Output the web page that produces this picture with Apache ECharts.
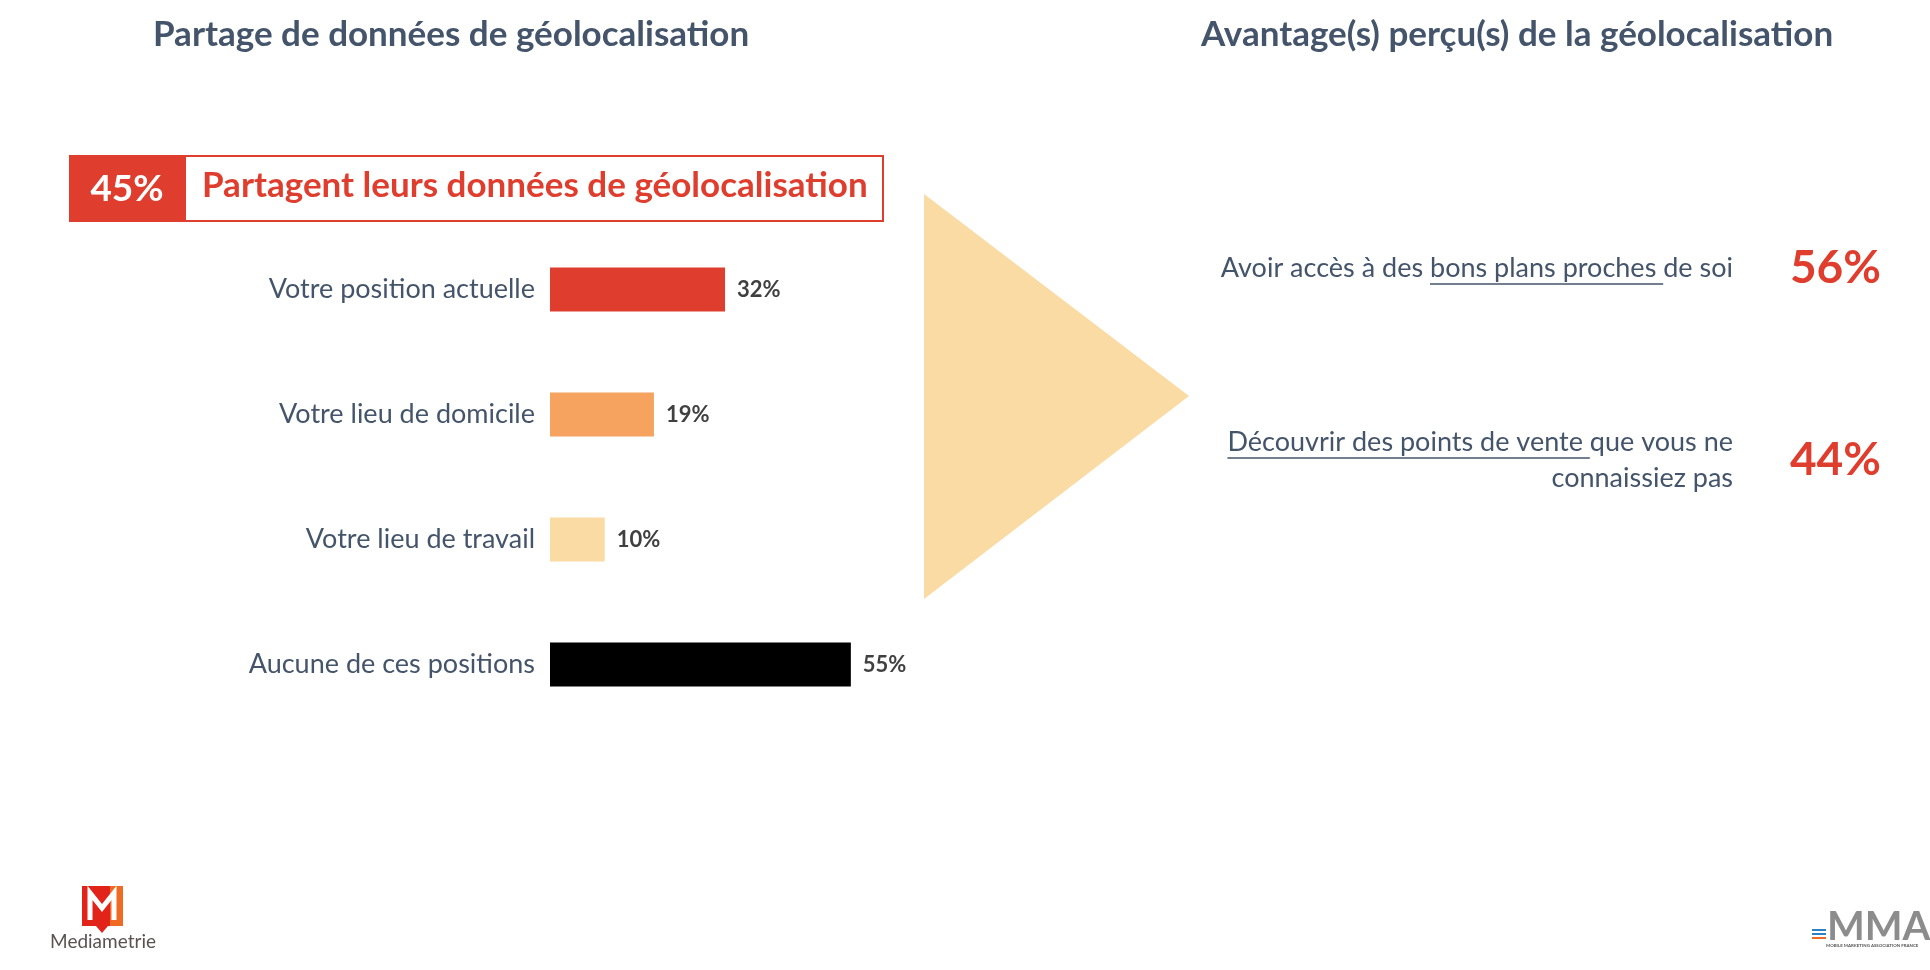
<!DOCTYPE html>
<html>
<head>
<meta charset="utf-8">
<script src="https://cdn.jsdelivr.net/npm/echarts@6/dist/echarts.min.js"></script>
<style>
html,body{margin:0;padding:0;background:#fff;}
#c{width:1930px;height:970px;}
</style>
</head>
<body>
<div id="c"></div>
<script>
// ---- data ----
const leftTitle = 'Partage de données de géolocalisation';
const rightTitle = 'Avantage(s) perçu(s) de la géolocalisation';
const shareValue = 45;
const shareText = 'Partagent leurs données de géolocalisation';
const categories = ['Votre position actuelle', 'Votre lieu de domicile', 'Votre lieu de travail', 'Aucune de ces positions'];
const values = [32, 19, 10, 55];
const barColors = ['#DF3E2E', '#F5A35E', '#FADBA4', '#000000'];
// each benefit: lines, each line = [before, underlined, after]
const benefitLines = [
  [['Avoir accès à des ', 'bons plans proches ', 'de soi']],
  [['', 'Découvrir des points de vente ', 'que vous ne'], ['connaissiez pas', '', '']]
];
const benefitValues = [56, 44];

// ---- styles ----
const FONT = 'Lato, "Open Sans", sans-serif';
const SLATE = '#44546A';
const RED = '#DF3E2E';

const chart = echarts.init(document.getElementById('c'));

const mctx = document.createElement('canvas').getContext('2d');
function tw(txt, size, weight) {
  mctx.font = (weight || 'normal') + ' ' + size + 'px ' + FONT;
  return mctx.measureText(txt).width;
}

const graphics = [];
// titles
graphics.push({type:'text', x:153, y:35, style:{text:leftTitle, font:'bold 35px ' + FONT, fill:SLATE, verticalAlign:'middle'}});
graphics.push({type:'text', x:1201, y:35, style:{text:rightTitle, font:'bold 35px ' + FONT, fill:SLATE, verticalAlign:'middle'}});
// share box
graphics.push({type:'rect', shape:{x:69, y:155, width:116, height:67}, style:{fill:RED}});
graphics.push({type:'rect', shape:{x:185, y:156, width:698, height:65}, style:{fill:'#fff', stroke:RED, lineWidth:2}});
graphics.push({type:'text', x:127, y:189, style:{text:shareValue + '%', font:'bold 37px ' + FONT, fill:'#fff', align:'center', verticalAlign:'middle'}});
graphics.push({type:'text', x:202, y:186, style:{text:shareText, font:'bold 35px ' + FONT, fill:RED, align:'left', verticalAlign:'middle'}});
// triangle
graphics.push({type:'polygon', shape:{points:[[924,194],[1189,396],[924,599]]}, style:{fill:'#FADBA4'}});

// benefits
const rightX = 1733;
const benefitY = [268, 442];
const lineH = 36;
const bSize = 27;
benefitLines.forEach((lines, i) => {
  lines.forEach((seg, j) => {
    const full = seg.join('');
    const y = benefitY[i] + j * lineH;
    graphics.push({type:'text', x:rightX, y:y, style:{text:full, font:bSize + 'px ' + FONT, fill:SLATE, align:'right', verticalAlign:'middle'}});
    if (seg[1]) {
      const W = tw(full, bSize);
      const x0 = rightX - W + tw(seg[0], bSize);
      const x1 = x0 + tw(seg[1], bSize);
      graphics.push({type:'line', shape:{x1:x0, y1:y + 16, x2:x1, y2:y + 16}, style:{stroke:SLATE, lineWidth:1.5}});
    }
  });
  const vy = benefitY[i] + (lines.length - 1) * lineH / 2;
  graphics.push({type:'text', x:1881, y:vy, style:{text:benefitValues[i] + '%', font:'bold 46px ' + FONT, fill:RED, align:'right', verticalAlign:'middle'}});
});

// Mediametrie logo
graphics.push({type:'polygon', shape:{points:[[82,886],[123,886],[123,926],[108,926],[102,933],[96,926],[82,926]]}, style:{fill:'#E2231A'}});
graphics.push({type:'polygon', shape:{points:[[110,886],[123,886],[123,926],[110,926]]}, style:{fill:'#EF6A22'}});
graphics.push({type:'polyline', shape:{points:[[90,920],[90,893],[102,908],[114,893],[114,920]]}, style:{stroke:'#fff', lineWidth:5, fill:null}});
graphics.push({type:'text', x:103, y:942, style:{text:'Mediametrie', font:'19px ' + FONT, fill:'#5B5151', align:'center', verticalAlign:'middle'}});
// MMA logo
graphics.push({type:'text', x:1827, y:927, style:{text:'MMA', font:'bold 40px ' + FONT, fill:'#8C8C8C', align:'left', verticalAlign:'middle'}});
graphics.push({type:'rect', shape:{x:1812, y:929, width:14, height:2}, style:{fill:'#2F7FC1'}});
graphics.push({type:'rect', shape:{x:1812, y:933, width:14, height:2}, style:{fill:'#2F7FC1'}});
graphics.push({type:'rect', shape:{x:1812, y:937, width:14, height:2}, style:{fill:'#EF6A22'}});
graphics.push({type:'text', x:1826, y:946, style:{text:'MOBILE MARKETING ASSOCIATION FRANCE', font:'bold 4.4px ' + FONT, fill:'#555', align:'left', verticalAlign:'middle'}});

chart.setOption({
  backgroundColor: '#fff',
  animation: false,
  grid: {left: 550, top: 227, width: 547, height: 500, containLabel: false},
  xAxis: {type: 'value', min: 0, max: 100, show: false},
  yAxis: {
    type: 'category', data: categories, inverse: true,
    axisLine: {show: false}, axisTick: {show: false},
    axisLabel: {color: SLATE, fontSize: 27, fontFamily: FONT, margin: 15}
  },
  series: [{
    type: 'bar', barWidth: 44,
    data: values.map((v, i) => ({value: v, itemStyle: {color: barColors[i]}})),
    label: {show: true, position: 'right', distance: 12, formatter: '{c}%', color: '#404040', fontWeight: 'bold', fontSize: 22, fontFamily: FONT}
  }],
  graphic: graphics
});
</script>
</body>
</html>
